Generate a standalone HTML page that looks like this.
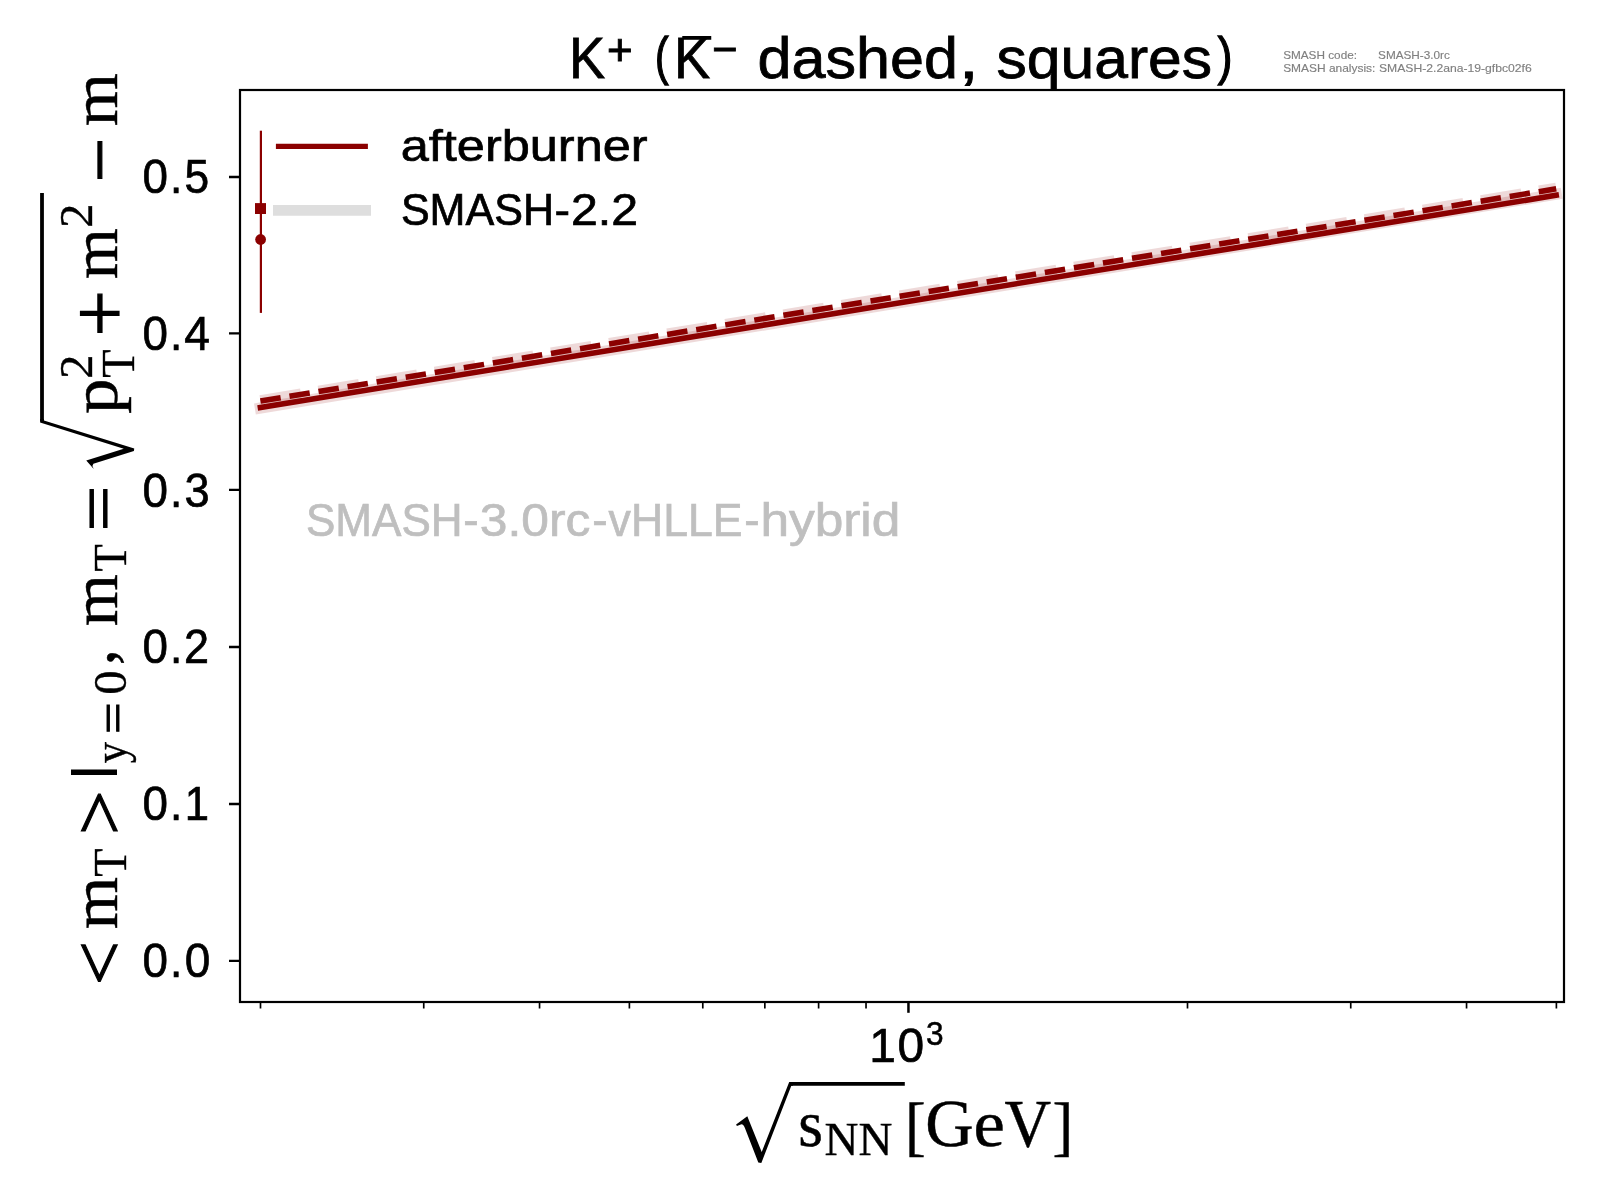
<!DOCTYPE html>
<html><head><meta charset="utf-8"><title>K+ mT</title>
<style>
html,body{margin:0;padding:0;background:#fff;}
body{width:1600px;height:1200px;overflow:hidden;font-family:"Liberation Sans",sans-serif;}
svg{display:block;will-change:transform;}
text{font-kerning:none;white-space:pre;}
</style></head><body>
<svg width="1600" height="1200" viewBox="0 0 1600 1200">
<rect width="1600" height="1200" fill="#fff"/>
<g fill="none" stroke="#8b0000">
<path d="M260.4 408.1L1556.2 194.20000000000002" stroke-width="11.1" stroke-opacity="0.15" stroke-linecap="square"/>
<path d="M260.4 400.7L1556.2 188.3" stroke-width="11.1" stroke-opacity="0.15" stroke-dasharray="41.1 17.8"/>
<path d="M260.4 407.6L1556.2 195.3" stroke-width="5.56" stroke-linecap="square"/>
<path d="M260.4 401.0L1556.2 188.8" stroke-width="5.56" stroke-dasharray="20.55 8.89"/>
<path d="M260.9 130.7V312.9" stroke-width="2.2"/>
</g>
<rect x="255" y="203.1" width="11" height="10.9" fill="#8b0000"/>
<circle cx="260.6" cy="239.5" r="5.4" fill="#8b0000"/>
<path d="M275.9 146.4H367.9" stroke="#8b0000" stroke-width="5.4" fill="none"/>
<path d="M273 210.35H371" stroke="#dedede" stroke-width="10.9" fill="none"/>
<rect x="240" y="90" width="1324" height="912" fill="none" stroke="#000" stroke-width="2.2"/>
<path d="M229 177.00H240M229 333.40H240M229 489.90H240M229 647.00H240M229 804.00H240M229 960.90H240" stroke="#000" stroke-width="2.4" fill="none"/>
<path d="M260.50 1002V1008.6M423.74 1002V1008.6M539.55 1002V1008.6M629.39 1002V1008.6M702.79 1002V1008.6M764.85 1002V1008.6M818.61 1002V1008.6M866.03 1002V1008.6M1187.50 1002V1008.6M1350.74 1002V1008.6M1466.55 1002V1008.6M1556.39 1002V1008.6" stroke="#000" stroke-width="1.67" fill="none"/>
<path d="M908.45 1002V1012.8" stroke="#000" stroke-width="2.5" fill="none"/>
<text transform="translate(142.46,193.05) scale(0.9564,1)" font-family="Liberation Sans" font-size="47.90" fill="#000" stroke="#000" stroke-width="0.7">0</text>
<text transform="translate(170.02,193.05) scale(0.9209,1)" font-family="Liberation Sans" font-size="47.90" fill="#000" stroke="#000" stroke-width="0.7">.</text>
<text transform="translate(184.48,193.05) scale(0.9247,1)" font-family="Liberation Sans" font-size="47.90" fill="#000" stroke="#000" stroke-width="0.7">5</text>
<text transform="translate(142.46,349.80) scale(0.9564,1)" font-family="Liberation Sans" font-size="47.90" fill="#000" stroke="#000" stroke-width="0.7">0</text>
<text transform="translate(170.02,349.80) scale(0.9209,1)" font-family="Liberation Sans" font-size="47.90" fill="#000" stroke="#000" stroke-width="0.7">.</text>
<text transform="translate(184.29,349.80) scale(0.9653,1)" font-family="Liberation Sans" font-size="47.90" fill="#000" stroke="#000" stroke-width="0.7">4</text>
<text transform="translate(142.46,506.80) scale(0.9564,1)" font-family="Liberation Sans" font-size="47.90" fill="#000" stroke="#000" stroke-width="0.7">0</text>
<text transform="translate(170.02,506.80) scale(0.9209,1)" font-family="Liberation Sans" font-size="47.90" fill="#000" stroke="#000" stroke-width="0.7">.</text>
<text transform="translate(184.53,506.80) scale(0.9423,1)" font-family="Liberation Sans" font-size="47.90" fill="#000" stroke="#000" stroke-width="0.7">3</text>
<text transform="translate(142.46,663.05) scale(0.9564,1)" font-family="Liberation Sans" font-size="47.90" fill="#000" stroke="#000" stroke-width="0.7">0</text>
<text transform="translate(170.02,663.05) scale(0.9209,1)" font-family="Liberation Sans" font-size="47.90" fill="#000" stroke="#000" stroke-width="0.7">.</text>
<text transform="translate(183.99,663.05) scale(0.9394,1)" font-family="Liberation Sans" font-size="47.90" fill="#000" stroke="#000" stroke-width="0.7">2</text>
<text transform="translate(142.46,819.80) scale(0.9564,1)" font-family="Liberation Sans" font-size="47.90" fill="#000" stroke="#000" stroke-width="0.7">0</text>
<text transform="translate(170.02,819.80) scale(0.9209,1)" font-family="Liberation Sans" font-size="47.90" fill="#000" stroke="#000" stroke-width="0.7">.</text>
<text transform="translate(184.83,819.80) scale(0.9103,1)" font-family="Liberation Sans" font-size="47.90" fill="#000" stroke="#000" stroke-width="0.7">1</text>
<text transform="translate(142.46,977.00) scale(0.9564,1)" font-family="Liberation Sans" font-size="47.90" fill="#000" stroke="#000" stroke-width="0.7">0</text>
<text transform="translate(170.02,977.00) scale(0.9209,1)" font-family="Liberation Sans" font-size="47.90" fill="#000" stroke="#000" stroke-width="0.7">.</text>
<text transform="translate(184.85,977.00) scale(0.9608,1)" font-family="Liberation Sans" font-size="47.90" fill="#000" stroke="#000" stroke-width="0.7">0</text>
<text x="869.20" y="1062.10" font-family="Liberation Sans" font-size="47.90" letter-spacing="1.640" fill="#000" stroke="#000" stroke-width="0.7">10</text>
<text transform="translate(926.05,1045.30) scale(0.9529,1)" font-family="Liberation Sans" font-size="33.20" fill="#000" stroke="#000" stroke-width="0.5">3</text>
<text transform="translate(400.71,161.00) scale(1.1245,1)" font-family="Liberation Sans" font-size="44.90" fill="#000" stroke="#000" stroke-width="0.7">afterburner</text>
<text transform="translate(400.89,224.60) scale(0.9621,1)" font-family="Liberation Sans" font-size="44.80" fill="#000" stroke="#000" stroke-width="0.7">SMASH</text>
<text transform="translate(554.58,224.60) scale(1.0423,1)" font-family="Liberation Sans" font-size="44.80" fill="#000" stroke="#000" stroke-width="0.7">-</text>
<text transform="translate(571.02,224.60) scale(1.0766,1)" font-family="Liberation Sans" font-size="44.80" fill="#000" stroke="#000" stroke-width="0.7">2.2</text>
<text transform="translate(305.95,536.00) scale(0.9537,1)" font-family="Liberation Sans" font-size="46.20" fill="#bfbfbf" stroke="#bfbfbf" stroke-width="0.7">SMASH</text>
<text transform="translate(463.29,536.00) scale(1.0018,1)" font-family="Liberation Sans" font-size="46.20" fill="#bfbfbf" stroke="#bfbfbf" stroke-width="0.7">-</text>
<text transform="translate(479.86,536.00) scale(1.0759,1)" font-family="Liberation Sans" font-size="46.20" fill="#bfbfbf" stroke="#bfbfbf" stroke-width="0.7">3.0rc</text>
<text transform="translate(592.29,536.00) scale(1.0018,1)" font-family="Liberation Sans" font-size="46.20" fill="#bfbfbf" stroke="#bfbfbf" stroke-width="0.7">-</text>
<text transform="translate(608.60,536.00) scale(0.9661,1)" font-family="Liberation Sans" font-size="46.20" fill="#bfbfbf" stroke="#bfbfbf" stroke-width="0.7">vHLLE</text>
<text transform="translate(744.29,536.00) scale(1.0018,1)" font-family="Liberation Sans" font-size="46.20" fill="#bfbfbf" stroke="#bfbfbf" stroke-width="0.7">-</text>
<text transform="translate(760.39,536.00) scale(1.1124,1)" font-family="Liberation Sans" font-size="46.20" fill="#bfbfbf" stroke="#bfbfbf" stroke-width="0.7">hybrid</text>
<text transform="translate(1283.14,58.70) scale(1.0152,1)" font-family="Liberation Sans" font-size="11.60" fill="#808080" stroke="#808080" stroke-width="0.15">SMASH code:</text>
<text transform="translate(1378.04,58.70) scale(1.0140,1)" font-family="Liberation Sans" font-size="11.60" fill="#808080" stroke="#808080" stroke-width="0.15">SMASH-3.0rc</text>
<text transform="translate(1283.13,72.00) scale(1.0310,1)" font-family="Liberation Sans" font-size="11.60" fill="#808080" stroke="#808080" stroke-width="0.15">SMASH analysis:</text>
<text transform="translate(1378.92,72.00) scale(1.0509,1)" font-family="Liberation Sans" font-size="11.60" fill="#808080" stroke="#808080" stroke-width="0.15">SMASH-2.2ana-19-gfbc02f6</text>
<text transform="translate(569.05,78.10) scale(0.9411,1)" font-family="Liberation Sans" font-size="57.60" fill="#000" stroke="#000" stroke-width="0.8">K</text>
<text transform="translate(607.05,64.81) scale(0.4394,0.4394)" font-family="Liberation Sans" font-size="100" fill="#000" stroke="#000" stroke-width="2.05">+</text>
<text transform="translate(655.02,74.10) scale(0.7833,1)" font-family="Liberation Sans" font-size="52.00" fill="#000" stroke="#000" stroke-width="1.3">(</text>
<text transform="translate(674.05,78.10) scale(0.9411,1)" font-family="Liberation Sans" font-size="57.60" fill="#000" stroke="#000" stroke-width="0.8">K</text>
<path d="M682.25 37.9H711.25" stroke="#000" stroke-width="3.75" fill="none"/>
<text transform="translate(712.31,64.44) scale(0.4343,0.4343)" font-family="Liberation Sans" font-size="100" fill="#000" stroke="#000" stroke-width="2.07">−</text>
<text transform="translate(757.53,78.10) scale(1.0605,1)" font-family="Liberation Sans" font-size="57.60" fill="#000" stroke="#000" stroke-width="0.8">dashed</text>
<text transform="translate(958.70,78.10) scale(1.2559,1)" font-family="Liberation Sans" font-size="57.60" fill="#000" stroke="#000" stroke-width="0.8">,</text>
<text transform="translate(996.51,78.10) scale(1.0520,1)" font-family="Liberation Sans" font-size="57.60" fill="#000" stroke="#000" stroke-width="0.8">squares</text>
<text transform="translate(1217.69,74.10) scale(0.8486,1)" font-family="Liberation Sans" font-size="52.00" fill="#000" stroke="#000" stroke-width="1.3">)</text>
<text transform="translate(798.37,1145.60) scale(0.9615,1)" font-family="Liberation Serif" font-size="66.00" fill="#000" stroke="#000" stroke-width="0.45">s</text>
<text transform="translate(824.53,1154.80) scale(1.0171,1)" font-family="Liberation Serif" font-size="46.20" fill="#000" stroke="#000" stroke-width="0.36000000000000004">NN</text>
<text transform="translate(905.11,1147.60) scale(0.9482,1)" font-family="Liberation Serif" font-size="65.60" fill="#000" stroke="#000" stroke-width="0.45">[</text>
<text transform="translate(925.28,1145.60) scale(0.9857,1)" font-family="Liberation Serif" font-size="67.98" fill="#000" stroke="#000" stroke-width="0.45">G</text>
<text transform="translate(973.47,1145.60) scale(1.0705,1)" font-family="Liberation Serif" font-size="66.00" fill="#000" stroke="#000" stroke-width="0.45">e</text>
<text transform="translate(1004.50,1145.60) scale(0.9538,1)" font-family="Liberation Serif" font-size="67.65" fill="#000" stroke="#000" stroke-width="0.45">V</text>
<text transform="translate(1052.38,1147.60) scale(0.9482,1)" font-family="Liberation Serif" font-size="65.60" fill="#000" stroke="#000" stroke-width="0.45">]</text>
<path d="M790 1083.9H904.8" stroke="#000" stroke-width="3.6" fill="none"/>
<path d="M736.1 1124.6L747.3 1116.25L761.7 1152.1L789.2 1082.1L792.9 1082.1L792.9 1085.7L791.3 1085.7L761.3 1163.1L758.3 1162.6L745 1128.3Q743.5 1124.5 741.5 1124.3L736.9 1126Z" fill="#000"/>
<g transform="translate(117,982) rotate(-90)">
<text transform="translate(-3.30,6.50) scale(0.7822,0.7379)" font-family="Liberation Serif" font-size="100" fill="#000" stroke="#000" stroke-width="1.58">&lt;</text>
<text transform="translate(52.81,0.00) scale(1.0211,1)" font-family="Liberation Serif" font-size="66.00" fill="#000" stroke="#000" stroke-width="0.45">m</text>
<text transform="translate(105.34,8.60) scale(1.0008,1)" font-family="Liberation Serif" font-size="46.20" fill="#000" stroke="#000" stroke-width="0.36000000000000004">T</text>
<text transform="translate(146.98,6.50) scale(0.7908,0.7379)" font-family="Liberation Serif" font-size="100" fill="#000" stroke="#000" stroke-width="1.57">&gt;</text>
<path d="M209.7 0V-46" stroke="#000" stroke-width="5.4" fill="none"/>
<text transform="translate(218.66,8.60) scale(0.9233,1)" font-family="Liberation Serif" font-size="46.20" fill="#000" stroke="#000" stroke-width="0.36000000000000004">y</text>
<text transform="translate(248.10,12.20) scale(0.5630,0.4880)" font-family="Liberation Serif" font-size="100" fill="#000" stroke="#000" stroke-width="1.90">=</text>
<text transform="translate(287.33,8.60) scale(1.0541,1)" font-family="Liberation Serif" font-size="46.20" fill="#000" stroke="#000" stroke-width="0.36000000000000004">0</text>
<text transform="translate(316.78,-3.00) scale(0.9716,1)" font-family="Liberation Serif" font-size="66.00" fill="#000" stroke="#000" stroke-width="0.45">,</text>
<text transform="translate(355.82,0.00) scale(1.0129,1)" font-family="Liberation Serif" font-size="66.00" fill="#000" stroke="#000" stroke-width="0.45">m</text>
<text transform="translate(410.38,8.60) scale(0.9632,1)" font-family="Liberation Serif" font-size="46.20" fill="#000" stroke="#000" stroke-width="0.36000000000000004">T</text>
<text transform="translate(450.55,4.31) scale(0.8123,0.6720)" font-family="Liberation Serif" font-size="100" fill="#000" stroke="#000" stroke-width="1.62">=</text>
<text transform="translate(568.08,0.00) scale(1.0746,1)" font-family="Liberation Serif" font-size="66.00" fill="#000" stroke="#000" stroke-width="0.45">p</text>
<text transform="translate(604.34,17.00) scale(1.0008,1)" font-family="Liberation Serif" font-size="46.20" fill="#000" stroke="#000" stroke-width="0.36000000000000004">T</text>
<text transform="translate(603.03,-25.00) scale(1.0604,1)" font-family="Liberation Serif" font-size="46.20" fill="#000" stroke="#000" stroke-width="0.36000000000000004">2</text>
<text transform="translate(645.51,9.56) scale(0.8209,0.8209)" font-family="Liberation Serif" font-size="100" fill="#000" stroke="#000" stroke-width="1.46">+</text>
<text transform="translate(702.85,0.00) scale(0.9924,1)" font-family="Liberation Serif" font-size="66.00" fill="#000" stroke="#000" stroke-width="0.45">m</text>
<text transform="translate(754.03,-25.00) scale(1.0604,1)" font-family="Liberation Serif" font-size="46.20" fill="#000" stroke="#000" stroke-width="0.36000000000000004">2</text>
<text transform="translate(799.60,8.83) scale(0.7930,0.7930)" font-family="Liberation Serif" font-size="100" fill="#000" stroke="#000" stroke-width="1.39">−</text>
<text transform="translate(855.79,0.00) scale(1.0333,1)" font-family="Liberation Serif" font-size="66.00" fill="#000" stroke="#000" stroke-width="0.45">m</text>
<path d="M561 -75H789" stroke="#000" stroke-width="3.8" fill="none"/>
<path d="M513 -23.25L521.6 -30.75L533.25 6.75L559.5 -76.9L563 -76.9L563 -73.1L561.4 -73.1L533.6 17.25L531 16.9L518.25 -23.6L516 -24.6Z" fill="#000"/>
</g>
</svg>
</body></html>
